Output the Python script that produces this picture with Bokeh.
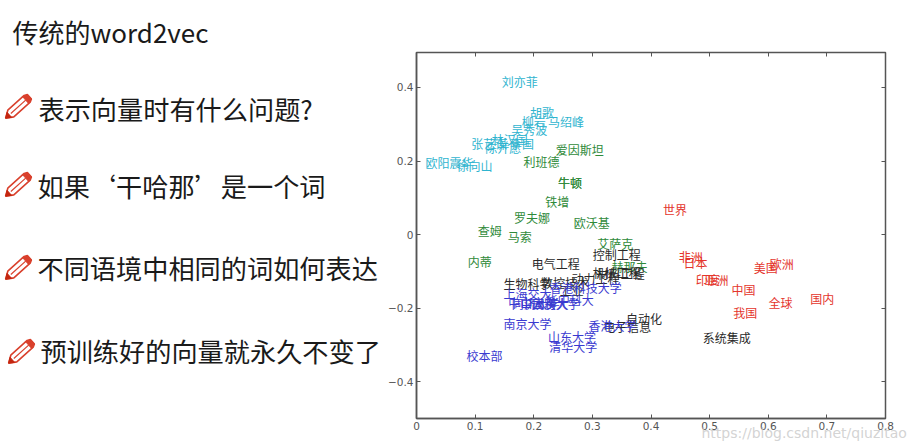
from math import cos, sin, radians
from bokeh.embed import file_html
from bokeh.layouts import row
from bokeh.models import ColumnDataSource, FixedTicker, LinearAxis, Range1d, Title
from bokeh.plotting import figure
from bokeh.resources import INLINE
from bokeh.core.properties import value

CJK = "Noto Sans CJK SC"

title_text = "传统的word2vec"
watermark = "https://blog.csdn.net/qiuzitao"
bullets = ["表示向量时有什么问题?", "如果‘干哈那’是一个词", "不同语境中相同的词如何表达", "预训练好的向量就永久不变了"]

people_names = ["刘亦菲", "胡歌", "柳岩", "马绍峰", "吴秀波", "张艺谋", "林汉国", "陈开愿", "李国", "欧阳震华", "徐向山"]
people_x = [0.148, 0.196, 0.182, 0.227, 0.164, 0.096, 0.131, 0.120, 0.162, 0.018, 0.071]
people_y = [0.417, 0.333, 0.308, 0.307, 0.286, 0.248, 0.259, 0.238, 0.248, 0.195, 0.188]

science_names = ["爱因斯坦", "利班德", "牛顿", "牛顿", "铁增", "罗夫娜", "欧沃基", "查姆", "马索", "艾萨克", "内蒂", "赫那夫"]
science_x = [0.240, 0.185, 0.244, 0.244, 0.222, 0.169, 0.271, 0.107, 0.158, 0.311, 0.090, 0.335]
science_y = [0.230, 0.199, 0.141, 0.141, 0.090, 0.047, 0.032, 0.011, -0.005, -0.024, -0.073, -0.086]

major_names = ["电气工程", "控制工程", "生物科学", "数控技术", "动力工程", "机械工程", "材料工程", "工业", "自动化", "电子信息", "系统集成"]
major_x = [0.199, 0.303, 0.151, 0.215, 0.267, 0.303, 0.310, 0.247, 0.360, 0.321, 0.491]
major_y = [-0.078, -0.053, -0.134, -0.130, -0.119, -0.103, -0.106, -0.152, -0.229, -0.250, -0.279]

school_names = ["上海交大", "香港科技大学", "中山大学", "同济大学", "中国科大", "武汉大学", "华中科大", "南京大学", "香港大学", "山东大学", "清华大学", "校本部"]
school_x = [0.151, 0.230, 0.159, 0.165, 0.180, 0.199, 0.223, 0.151, 0.296, 0.227, 0.229, 0.088]
school_y = [-0.161, -0.145, -0.184, -0.187, -0.187, -0.187, -0.177, -0.243, -0.248, -0.278, -0.304, -0.330]

place_names = ["世界", "非洲", "日本", "美国", "欧洲", "印度", "亚洲", "中国", "全球", "国内", "我国"]
place_x = [0.423, 0.450, 0.458, 0.578, 0.605, 0.479, 0.494, 0.540, 0.603, 0.674, 0.543]
place_y = [0.067, -0.060, -0.077, -0.089, -0.078, -0.123, -0.123, -0.148, -0.186, -0.175, -0.211]

x_ticks = [0.0, 0.1, 0.2, 0.3, 0.4, 0.5, 0.6, 0.7, 0.8]
y_ticks = [-0.4, -0.2, 0.0, 0.2, 0.4]

# left panel: slide text, coordinates are picture pixels
left = figure(width=385, height=442, x_range=Range1d(0, 385), y_range=Range1d(418, 52),
              output_backend="svg", toolbar_location=None,
              min_border_left=0, min_border_right=0, min_border_top=52, min_border_bottom=24)
left.axis.visible = False
left.grid.visible = False
left.outline_line_color = None
left.title = Title(text=title_text, text_font=CJK, text_font_size="26px", text_font_style="normal",
                   text_color="#1a1a1a", align="left", offset=12, standoff=6)

text_rows = [(38, 108, bullets[0]), (37, 185, bullets[1]), (37, 267, bullets[2]), (40, 350, bullets[3])]
left.text(x=[r[0] for r in text_rows], y=[r[1] for r in text_rows], text=[r[2] for r in text_rows],
          text_font=value(CJK), text_font_size="26.2px", text_color="#1a1a1a",
          text_baseline="middle", text_align="left")


def pencil(cx, cy, length=32, half=4.5):
    a = radians(-42)
    def place(pts):
        xs, ys = [], []
        for u, v in pts:
            u -= length / 2
            xs.append(cx + u * cos(a) - v * sin(a))
            ys.append(cy + u * sin(a) + v * cos(a))
        return xs, ys
    xs, ys = place([(0, 0), (7, -half), (length - 3, -half), (length, -half + 1.5), (length, half - 1.5), (length - 3, half), (7, half)])
    left.patch(xs, ys, fill_color="white", line_color="#d9402c", line_width=1.6)
    xs, ys = place([(0, 0), (5, -half * 0.75), (5, half * 0.75)])
    left.patch(xs, ys, fill_color="#c4260f", line_color="#c4260f", line_width=1)
    xs, ys = place([(length - 5, -half), (length, -half + 1.5), (length, half - 1.5), (length - 5, half)])
    left.patch(xs, ys, fill_color="#d9402c", line_color="#d9402c", line_width=1)
    xs, ys = place([(7, 0), (length - 5, 0)])
    left.line(xs, ys, line_color="#d9402c", line_width=1.2)


for c in [(17, 107), (17, 185), (17, 268), (20, 352)]:
    pencil(*c)

# right panel: the scatter of word labels
p = figure(width=528, height=442, x_range=Range1d(0.0, 0.8), y_range=Range1d(-0.5, 0.495),
           output_backend="svg", toolbar_location=None,
           min_border_left=30, min_border_right=28, min_border_top=52, min_border_bottom=24,
           x_axis_location="below", y_axis_location="left")
p.grid.visible = False
p.outline_line_color = "#555555"
p.outline_line_width = 1.5

p.xaxis.ticker = FixedTicker(ticks=x_ticks)
p.yaxis.ticker = FixedTicker(ticks=y_ticks)
for ax in p.xaxis + p.yaxis:
    ax.axis_line_color = "#555555"
    ax.axis_line_width = 1.5
    ax.major_tick_line_color = "#555555"
    ax.major_tick_in = 4
    ax.major_tick_out = 0
    ax.minor_tick_line_color = None
    ax.major_label_text_font = "DejaVu Sans"
    ax.major_label_text_font_size = "10.5px"
    ax.major_label_text_color = "#555555"
    ax.major_label_standoff = 3

top = LinearAxis(ticker=FixedTicker(ticks=x_ticks), major_tick_in=4, major_tick_out=0,
                 minor_tick_line_color=None, major_label_overrides={t: "" for t in x_ticks},
                 major_label_standoff=0, axis_line_color=None, major_tick_line_color="#555555")
right = LinearAxis(ticker=FixedTicker(ticks=y_ticks), major_tick_in=4, major_tick_out=0,
                   minor_tick_line_color=None, major_label_overrides={t: "" for t in y_ticks},
                   major_label_standoff=0, axis_line_color=None, major_tick_line_color="#555555")
p.add_layout(top, "above")
p.add_layout(right, "right")

groups = [(people_names, people_x, people_y, "#2fb4cf"),
          (science_names, science_x, science_y, "#2f8a3a"),
          (major_names, major_x, major_y, "#2a2a2a"),
          (school_names, school_x, school_y, "#3a3ad0"),
          (place_names, place_x, place_y, "#e4352c")]
for names, xs, ys, color in groups:
    src = ColumnDataSource(dict(x=xs, y=ys, t=names))
    p.text(x="x", y="y", text="t", source=src, text_font=value(CJK), text_font_size="12px",
           text_color=color, text_baseline="middle", text_align="left", x_offset=-1.5)

p.add_layout(Title(text=watermark, text_font="DejaVu Sans", text_font_size="14px", text_font_style="normal",
                   text_color="#c8c8c8", text_alpha=0.8, align="left", offset=285, standoff=-15,
                   vertical_align="top"), "below")

page = row(left, p, spacing=0)
open("out.html", "w").write(file_html(page, INLINE))
